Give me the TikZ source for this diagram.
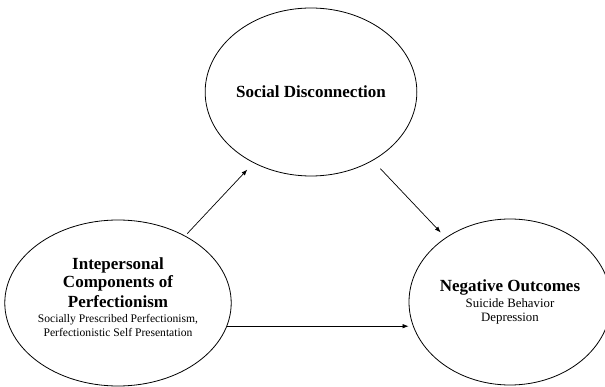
\documentclass[tikz,border=0pt]{standalone}
\usepackage{fontspec}
\setmainfont{Liberation Serif}
\usetikzlibrary{shapes.geometric}
\usetikzlibrary{arrows.meta}
\newcommand{\headtxt}{\fontsize{17}{19}\selectfont\bfseries}
\newcommand{\subtxt}{\fontsize{11.6}{13.2}\selectfont}
\newcommand{\outtxt}{\fontsize{12.8}{14.2}\selectfont}
\tikzset{construct/.style = {draw, ellipse, line width=0.8pt, inner sep=0pt, align=center},
         effect/.style = {-{Latex[length=6pt,width=4.5pt]}, line width=0.7pt}}

\begin{document}
\begin{tikzpicture}[x=1pt,y=-1pt]
    \useasboundingbox (0,0) rectangle (605,387);
    \node [construct, minimum width=202pt, minimum height=168pt] (disconn) at (311,92)
      {\headtxt Social Disconnection};
    \node [construct, minimum width=212pt, minimum height=166pt] (perfect) at (118,303)
      {\headtxt Intepersonal\\[2pt] \headtxt Components of\\[3pt] \headtxt Perfectionism\\[3pt]
       \subtxt Socially Prescribed Perfectionism,\\[2pt] \subtxt Perfectionistic Self Presentation\\ \mbox{}};
    \node [construct, minimum width=202pt, minimum height=166pt] (outcome) at (510,302)
      {\headtxt Negative Outcomes\\[3pt] \outtxt Suicide Behavior\\[2pt] \outtxt Depression};
    \draw [effect, shorten <=3pt, shorten >=9pt] (perfect.45) -- (disconn.231);
    \draw [effect, shorten <=11pt, shorten >=7pt] (disconn.312) -- (outcome.135);
    \draw [effect] (perfect.-12) -- (perfect.-12 -| outcome.west);
\end{tikzpicture}
\end{document}
